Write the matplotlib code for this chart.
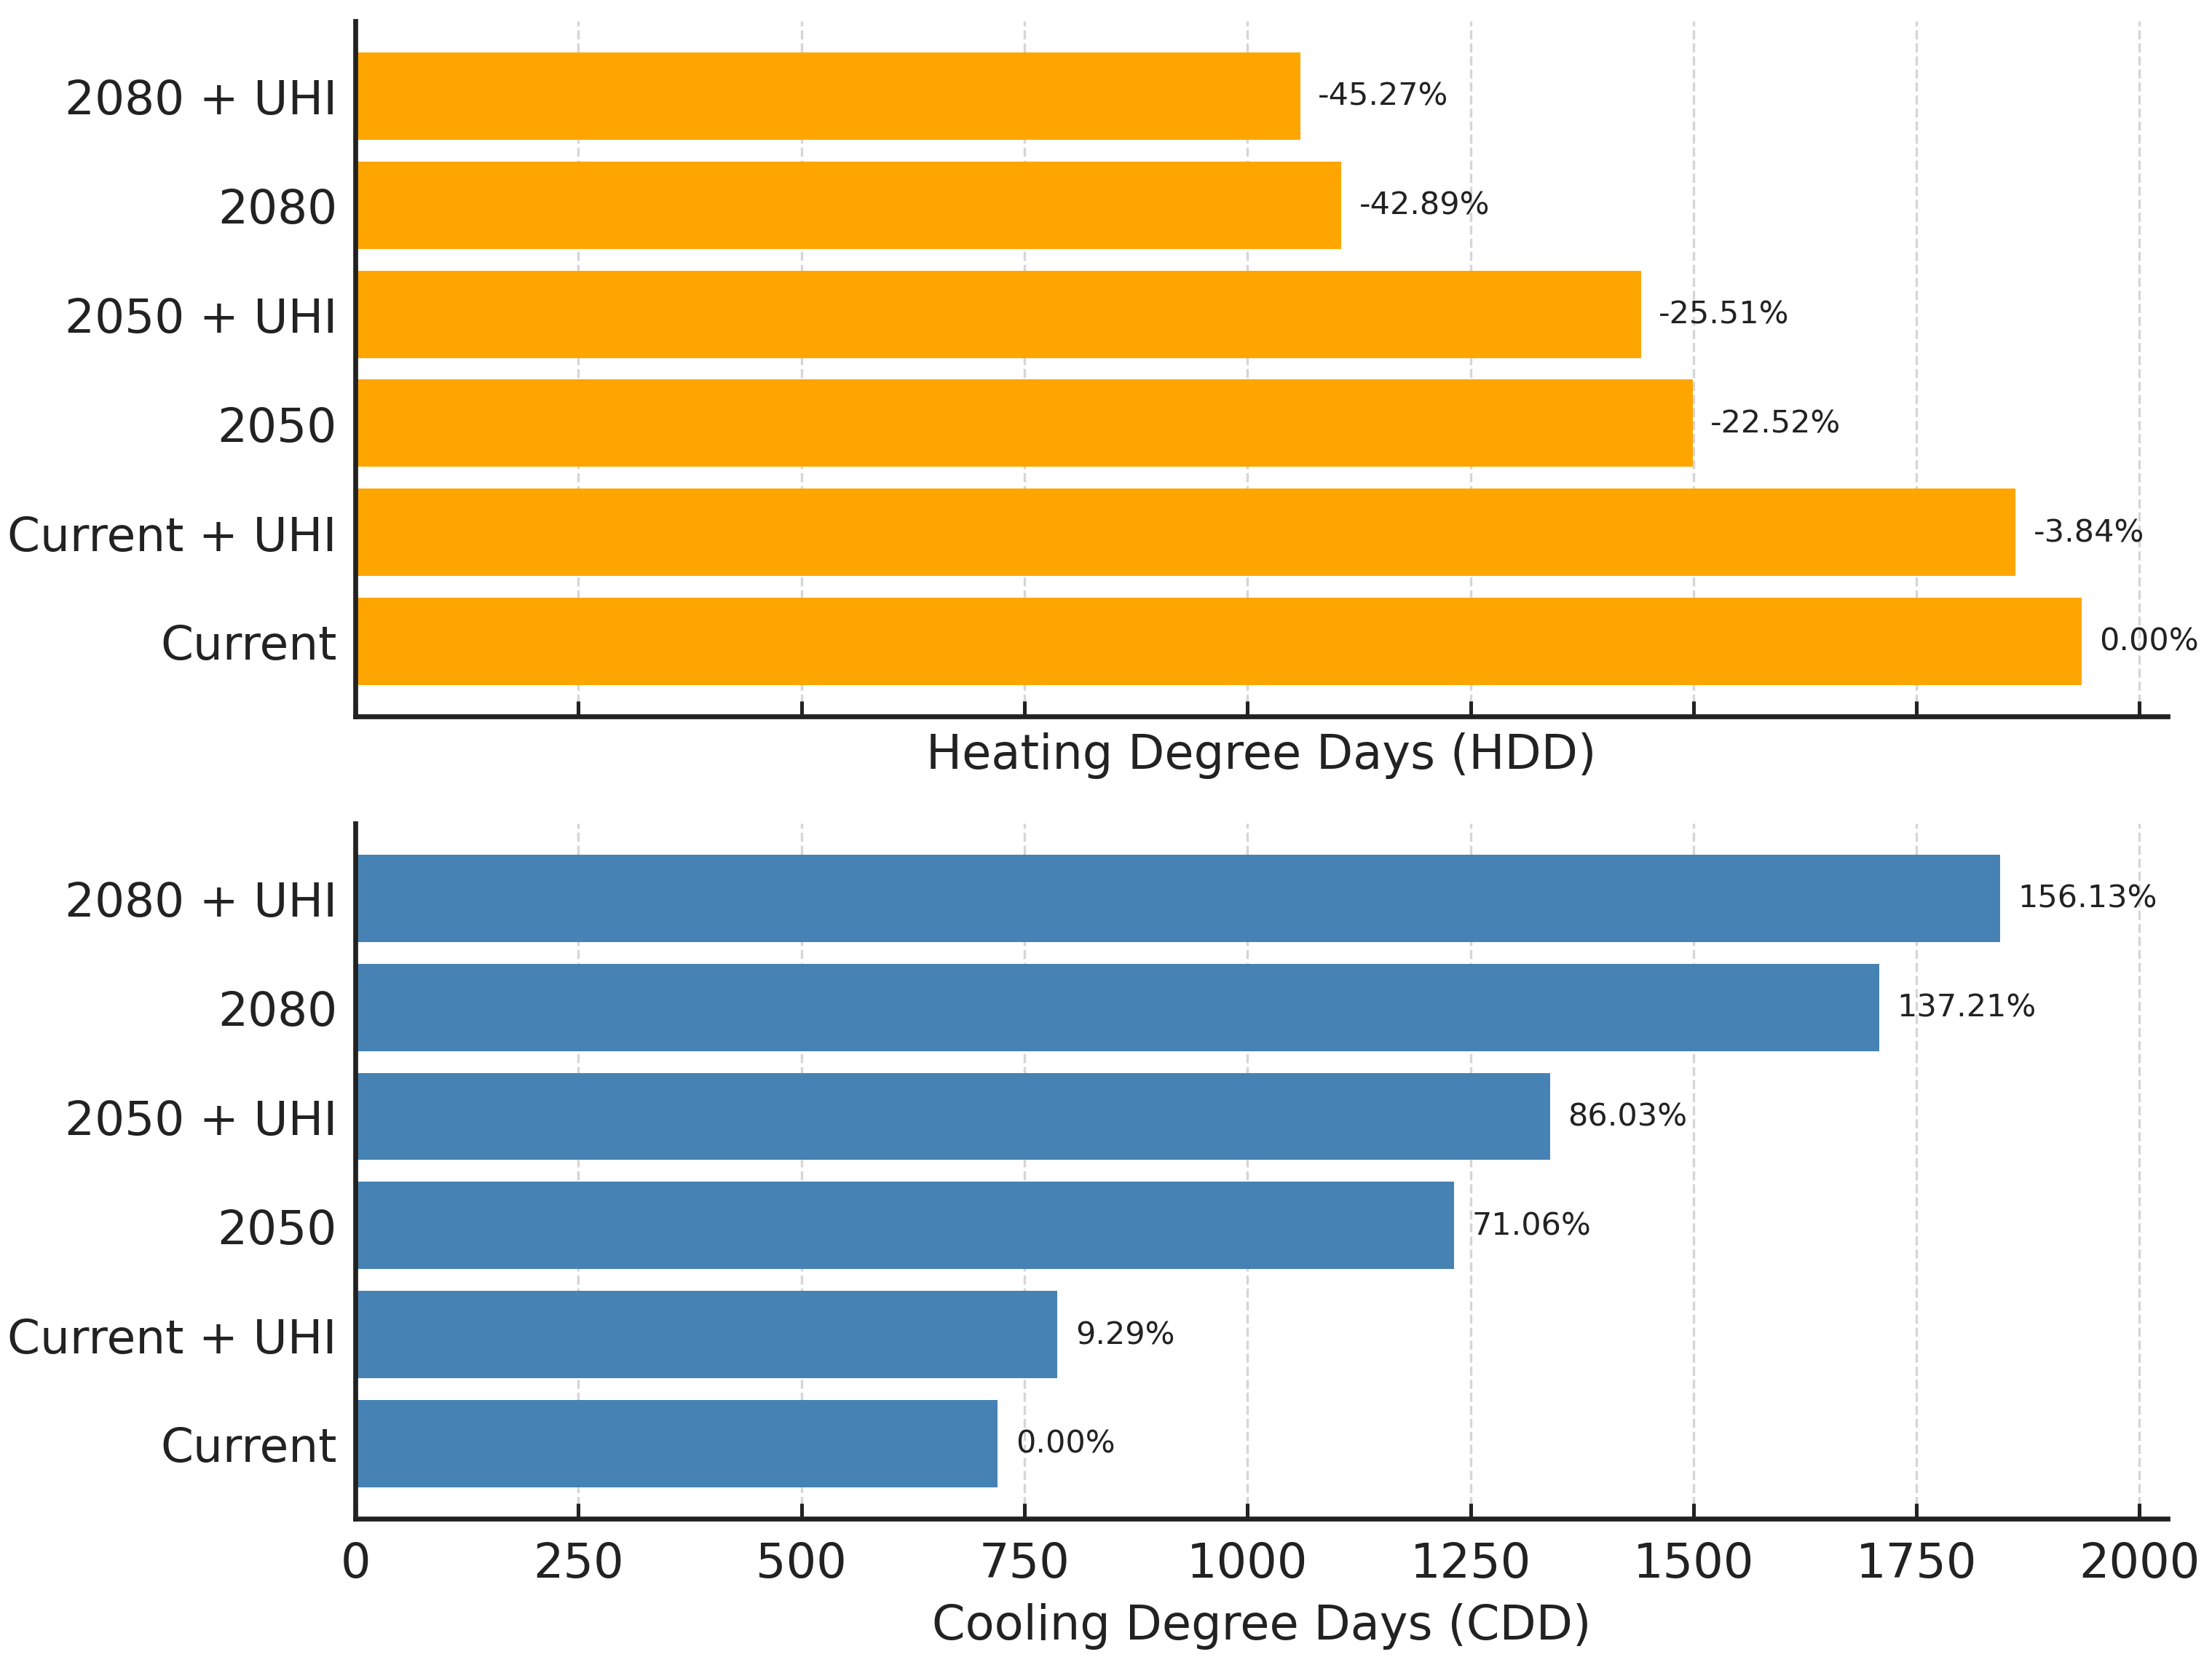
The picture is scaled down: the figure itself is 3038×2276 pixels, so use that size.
import matplotlib
matplotlib.use('Agg')
import matplotlib.pyplot as plt

# Data
scenarios = ['Current', 'Current + UHI', '2050', '2050 + UHI', '2080', '2080 + UHI']
hdd_values = [1935, 1861, 1499, 1441, 1105, 1059]
hdd_labels = ['0.00%', '-3.84%', '-22.52%', '-25.51%', '-42.89%', '-45.27%']
cdd_values = [720, 787, 1232, 1339, 1708, 1844]
cdd_labels = ['0.00%', '9.29%', '71.06%', '86.03%', '137.21%', '156.13%']
x_ticks = [0, 250, 500, 750, 1000, 1250, 1500, 1750, 2000]

plt.rcParams['font.family'] = 'DejaVu Sans'
text_color = '#222222'

fig, (ax1, ax2) = plt.subplots(2, 1, figsize=(10, 7.495), dpi=303.8, sharex=True)
fig.subplots_adjust(left=0.1607, right=0.980, top=0.987, bottom=0.0833, hspace=0.153)

panels = [
    (ax1, hdd_values, hdd_labels, 'orange', 'Heating Degree Days (HDD)'),
    (ax2, cdd_values, cdd_labels, 'steelblue', 'Cooling Degree Days (CDD)'),
]

for ax, values, labels, color, xlabel in panels:
    ax.barh(scenarios, values, color=color, height=0.8, zorder=2)
    for i, (v, lab) in enumerate(zip(values, labels)):
        ax.text(v + 20, i, lab, va='center', ha='left', fontsize=10.2,
                color=text_color, zorder=3)
    ax.set_xlabel(xlabel, fontsize=15.5, color=text_color, labelpad=5)
    ax.grid(axis='x', linestyle='--', color='#cccccc', linewidth=0.8, alpha=0.8, zorder=0)
    ax.set_axisbelow(True)
    for side in ['top', 'right']:
        ax.spines[side].set_visible(False)
    for side in ['left', 'bottom']:
        ax.spines[side].set_color(text_color)
        ax.spines[side].set_linewidth(1.6)
    ax.tick_params(axis='y', length=0, labelsize=15.3, labelcolor=text_color, pad=6)
    ax.tick_params(axis='x', direction='in', length=5, width=1.2, color=text_color,
                   labelsize=15.5, labelcolor=text_color, pad=7)

ax2.set_xticks(x_ticks)
ax1.tick_params(axis='x', labelbottom=False)

plt.savefig('out.png', dpi=303.8, facecolor='white')
